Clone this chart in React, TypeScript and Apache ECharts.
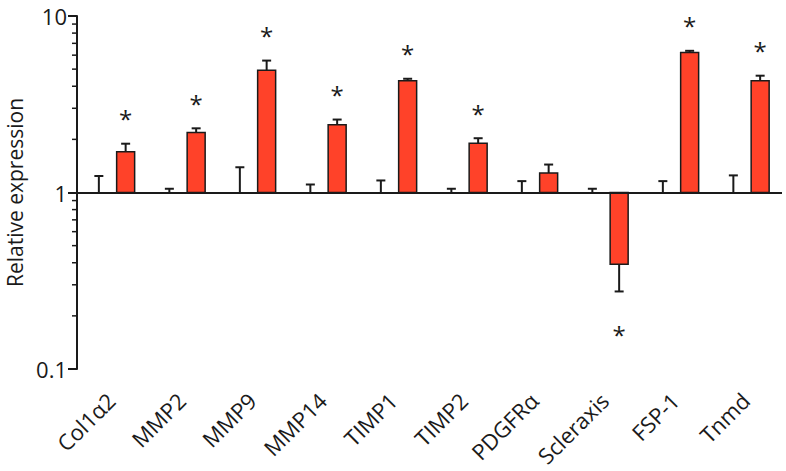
import React, { useEffect, useRef } from "react";
import * as echarts from "echarts";

const categories = ["Col1α2", "MMP2", "MMP9", "MMP14", "TIMP1", "TIMP2", "PDGFRα", "Scleraxis", "FSP-1", "Tnmd"];
const controlMean = [1, 1, 1, 1, 1, 1, 1, 1, 1, 1];
const controlErr = [1.24, 1.05, 1.39, 1.11, 1.17, 1.05, 1.16, 1.05, 1.16, 1.25];
const treatedMean = [1.7, 2.19, 4.93, 2.42, 4.3, 1.9, 1.29, 0.392, 6.21, 4.3];
const treatedErr = [1.89, 2.31, 5.59, 2.59, 4.41, 2.03, 1.44, 0.275, 6.35, 4.59];
const significant = [1, 1, 1, 1, 1, 1, 0, 1, 1, 1];
const minorTicks = [0.2, 0.3, 0.4, 0.5, 0.6, 0.7, 0.8, 0.9, 2, 3, 4, 5, 6, 7, 8, 9];

const FONT = "Open Sans";
const INK = "#1a1a1a";
const RED = "#ff4229";

export default function App() {
  const ref = useRef<HTMLDivElement>(null);
  useEffect(() => {
    document.body.style.margin = "0";
    const chart = echarts.init(ref.current!, null, { renderer: "svg" });
    const n = categories.length;
    const bandOf = (params: any) => params.coordSys.width / n;

    const option: any = {
      animation: false,
      backgroundColor: "#ffffff",
      grid: { left: 77, right: 4, top: 16, bottom: 102, containLabel: false, outerBoundsMode: "none" },
      xAxis: {
        type: "category",
        data: categories,
        axisLine: { show: false },
        axisTick: { show: false },
        axisLabel: {
          rotate: 45,
          margin: 26,
          interval: 0,
          color: INK,
          fontSize: 22,
          fontFamily: FONT,
          padding: [0, 2, 0, 0],
        },
      },
      yAxis: {
        type: "log",
        logBase: 10,
        min: 0.1,
        max: 10,
        name: "Relative expression",
        nameLocation: "middle",
        nameGap: 52,
        nameTextStyle: { color: INK, fontSize: 21, fontFamily: FONT },
        axisLine: { show: true, lineStyle: { color: INK, width: 2 } },
        axisTick: { show: true, length: 9, lineStyle: { color: INK, width: 2 } },
        splitLine: { show: false },
        axisLabel: { color: INK, fontSize: 22, lineHeight: 20, fontFamily: FONT, margin: 10 },
      },
      series: [
        {
          type: "custom",
          name: "minor",
          clip: false,
          silent: true,
          data: minorTicks.map((t) => [0, t]),
          encode: { x: 0, y: 1 },
          renderItem: (params: any, api: any) => {
            const y = api.coord([0, api.value(1)])[1];
            const x0 = params.coordSys.x;
            return {
              type: "line",
              shape: { x1: x0 - 5, y1: y, x2: x0, y2: y },
              style: { stroke: INK, lineWidth: 1.5 },
            };
          },
        },
        {
          type: "custom",
          name: "control",
          clip: false,
          silent: true,
          data: categories.map((c, i) => [i, controlMean[i], controlErr[i]]),
          encode: { x: 0, y: 1 },
          renderItem: (params: any, api: any) => {
            const i = api.value(0);
            const band = bandOf(params);
            const base = api.coord([i, api.value(1)]);
            const err = api.coord([i, api.value(2)]);
            const cx = base[0] - band * 0.19;
            const cap = 4.5;
            return {
              type: "group",
              children: [
                { type: "line", shape: { x1: cx, y1: base[1], x2: cx, y2: err[1] }, style: { stroke: INK, lineWidth: 2 } },
                { type: "line", shape: { x1: cx - cap, y1: err[1], x2: cx + cap, y2: err[1] }, style: { stroke: INK, lineWidth: 2 } },
              ],
            };
          },
        },
        {
          type: "custom",
          name: "treated",
          clip: false,
          silent: true,
          data: categories.map((c, i) => [i, treatedMean[i], treatedErr[i], significant[i]]),
          encode: { x: 0, y: 1 },
          renderItem: (params: any, api: any) => {
            const i = api.value(0);
            const band = bandOf(params);
            const top = api.coord([i, api.value(1)]);
            const base = api.coord([i, 1]);
            const err = api.coord([i, api.value(2)]);
            const cx = top[0] + band * 0.19;
            const w = 18;
            const cap = 4.5;
            const up = err[1] < base[1];
            const children: any[] = [
              { type: "line", shape: { x1: cx, y1: top[1], x2: cx, y2: err[1] }, style: { stroke: INK, lineWidth: 2 } },
              { type: "line", shape: { x1: cx - cap, y1: err[1], x2: cx + cap, y2: err[1] }, style: { stroke: INK, lineWidth: 2 } },
              {
                type: "rect",
                shape: { x: cx - w / 2, y: Math.min(top[1], base[1]), width: w, height: Math.abs(top[1] - base[1]) },
                style: { fill: RED, stroke: INK, lineWidth: 1.5 },
              },
            ];
            if (api.value(3)) {
              const vy = up ? err[1] - 28 : err[1] + 40;
              children.push({
                type: "text",
                style: {
                  text: "*",
                  x: cx,
                  y: vy + 3,
                  align: "center",
                  verticalAlign: "middle",
                  fontSize: 24,
                  fontFamily: FONT,
                  fill: INK,
                },
              });
            }
            return { type: "group", children };
          },
          markLine: {
            silent: true,
            symbol: "none",
            label: { show: false },
            lineStyle: { color: INK, width: 2, type: "solid" },
            data: [{ yAxis: 1 }],
          },
        },
      ],
    };
    chart.setOption(option);
    return () => chart.dispose();
  }, []);
  return <div ref={ref} style={{ width: 786, height: 471 }} />;
}
